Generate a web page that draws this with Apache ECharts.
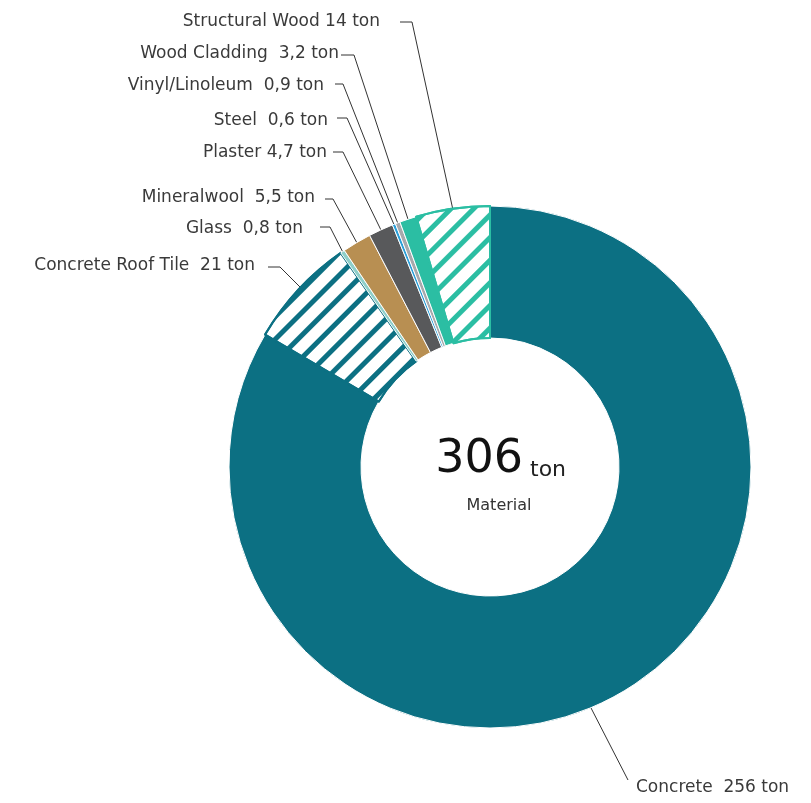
<!DOCTYPE html>
<html>
<head>
<meta charset="utf-8">
<script src="https://cdn.jsdelivr.net/npm/echarts@6/dist/echarts.min.js"></script>
<style>
  html, body { margin: 0; padding: 0; background: #fff; }
  #chart { width: 811px; height: 803px; }
</style>
</head>
<body>
<div id="chart"></div>
<script>
// ---------- data ----------
const categories = ['Concrete', 'Concrete Roof Tile', 'Glass', 'Mineralwool', 'Plaster', 'Steel', 'Vinyl/Linoleum', 'Wood Cladding', 'Structural Wood'];
const values = [256, 21, 0.8, 5.5, 4.7, 0.6, 0.9, 3.2, 14];
const valueTexts = ['256', '21', '0,8', '5,5', '4,7', '0,6', '0,9', '3,2', '14'];
const unit = 'ton';
const totalText = '306';
const centerCaption = 'Material';

// ---------- styles ----------
const colors = ['#0c7083', '#0c7083', '#8ecfc9', '#b88f52', '#58595b', '#2a9fd8', '#a7a9ac', '#2bbea3', '#2bbea3'];
const hatched = [false, true, false, false, false, false, false, false, true];
const singleGap = ['Plaster', 'Structural Wood'];
const FONT = '"DejaVu Sans", "Liberation Sans", sans-serif';

// label layout: [anchorX, anchorY, align, lineY, lineStartX, elbowX, endX|null, endY|null]
const labelSpots = [
  [636, 788, 'left', null, null, null, 590, 706],
  [255, 266, 'right', 267, 268, 280, 313, 300],
  [303, 229, 'right', 227, 320, 330, null, null],
  [315, 198, 'right', 199, 325, 333, null, null],
  [327, 153, 'right', 152, 333, 343, null, null],
  [328, 121, 'right', 118, 337, 347, null, null],
  [324, 86, 'right', 84, 335, 343, null, null],
  [339, 54, 'right', 55, 341, 354, null, null],
  [380, 22, 'right', 22, 400, 412, null, null]
];

const seriesData = categories.map((name, i) => {
  const item = { name: name, value: values[i] };
  if (hatched[i]) {
    item.itemStyle = {
      color: '#ffffff',
      borderColor: colors[i],
      borderWidth: 2,
      decal: {
        symbol: 'rect',
        color: colors[i],
        dashArrayX: [1, 0],
        dashArrayY: [5, 11],
        rotation: -Math.PI / 4
      }
    };
  } else {
    item.itemStyle = { color: colors[i], borderColor: '#ffffff', borderWidth: 1 };
  }
  return item;
});

const chart = echarts.init(document.getElementById('chart'), null, { renderer: 'canvas' });

chart.setOption({
  backgroundColor: '#ffffff',
  animation: false,
  series: [{
    type: 'pie',
    center: [490, 467],
    radius: [129, 261],
    startAngle: 90,
    clockwise: true,
    avoidLabelOverlap: false,
    data: seriesData,
    label: {
      show: true,
      position: 'outside',
      color: '#3a3a3a',
      fontFamily: FONT,
      fontSize: 17,
      formatter: function (p) {
        const gap = singleGap.indexOf(p.name) >= 0 ? ' ' : '  ';
        return p.name + gap + valueTexts[p.dataIndex] + ' ' + unit;
      }
    },
    labelLine: {
      show: true,
      length: 10,
      length2: 10,
      smooth: false,
      lineStyle: { color: '#333333', width: 1 }
    },
    labelLayout: function (params) {
      const s = labelSpots[params.dataIndex];
      const pts = params.labelLinePoints;
      const start = (s[6] != null) ? [s[6], s[7]] : (pts ? pts[0] : [0, 0]);
      let line;
      if (s[3] == null) {
        line = [start, [s[0] - 8, s[1] - 8], [s[0] - 8, s[1] - 8]];
      } else {
        line = [start, [s[5], s[3]], [s[4], s[3]]];
      }
      return {
        x: s[0],
        y: s[1],
        align: s[2],
        verticalAlign: 'middle',
        labelLinePoints: line
      };
    }
  }],
  graphic: [
    {
      type: 'text',
      style: { text: totalText, x: 523, y: 460, align: 'right', verticalAlign: 'middle', font: '500 46px ' + FONT, fill: '#111111' }
    },
    {
      type: 'text',
      style: { text: unit, x: 530, y: 470, align: 'left', verticalAlign: 'middle', font: '22px ' + FONT, fill: '#222222' }
    },
    {
      type: 'text',
      style: { text: centerCaption, x: 499, y: 506, align: 'center', verticalAlign: 'middle', font: '16px ' + FONT, fill: '#333333' }
    }
  ]
});
</script>
</body>
</html>
